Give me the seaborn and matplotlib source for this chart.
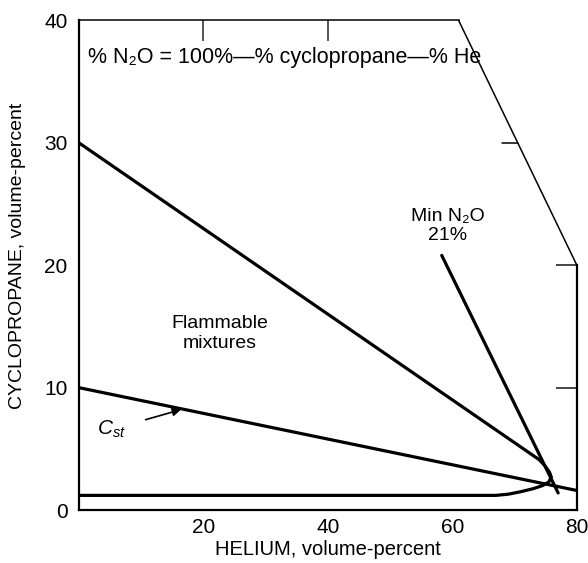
import matplotlib
matplotlib.use("Agg")
import matplotlib.pyplot as plt
import seaborn as sns
import pandas as pd

# flammable envelope: upper limit line, nose, lower limit (helium %, cyclopropane %)
envelope_he = [0, 74.0, 74.9, 75.6, 75.9, 75.5, 74.5, 73.0, 71.0, 69.0, 67.0, 0]
envelope_cp = [30, 4.1, 3.6, 3.1, 2.7, 2.3, 2.0, 1.75, 1.5, 1.3, 1.2, 1.2]

# stoichiometric line
cst_he = [0, 80]
cst_cp = [10, 1.6]

# minimum N2O (21%) line
minn2o_he = [58.3, 77.0]
minn2o_cp = [20.8, 1.4]

# N2O = 0 boundary (top right corner of the frame)
edge_he = [61, 80]
edge_cp = [40, 20]

x_ticks = [0, 20, 40, 60, 80]
x_labels = ["", "20", "40", "60", "80"]
y_ticks = [0, 10, 20, 30, 40]
y_labels = ["0", "10", "20", "30", "40"]

sns.set_style("white")
plt.rcParams["font.family"] = ["Liberation Sans", "DejaVu Sans"]
plt.rcParams["mathtext.fontset"] = "custom"
plt.rcParams["mathtext.it"] = "Liberation Sans:italic"
plt.rcParams["mathtext.rm"] = "Liberation Sans"
plt.rcParams["text.color"] = "black"
plt.rcParams["axes.labelcolor"] = "black"

fig = plt.figure(figsize=(5.88, 5.63), dpi=100)
ax = fig.add_axes([0.134, 0.094, 0.847, 0.870])

env = pd.DataFrame({"he": envelope_he, "cp": envelope_cp})
sns.lineplot(data=env, x="he", y="cp", sort=False, estimator=None, color="black", lw=2.3, ax=ax)
sns.lineplot(x=cst_he, y=cst_cp, sort=False, estimator=None, color="black", lw=2.3, ax=ax)
sns.lineplot(x=minn2o_he, y=minn2o_cp, sort=False, estimator=None, color="black", lw=2.3, ax=ax)
ax.plot(edge_he, edge_cp, color="black", lw=1.1, clip_on=False)
# tick at 30 on the slanted edge
ax.plot([68.0, 70.5], [30, 30], color="black", lw=1.1, clip_on=False)

ax.set_xlim(0, 80)
ax.set_ylim(0, 40)
ax.set_xticks(x_ticks, x_labels)
ax.set_yticks(y_ticks, y_labels)
ax.tick_params(direction="in", length=15, width=1.2, labelsize=15, colors="black", pad=6)
ax.tick_params(axis="y", pad=8)

for side in ["left", "bottom"]:
    ax.spines[side].set_linewidth(1.6)
    ax.spines[side].set_color("black")
ax.spines["top"].set_bounds(0, 61)
ax.spines["top"].set_linewidth(1.1)
ax.spines["top"].set_color("black")
ax.spines["right"].set_bounds(0, 20)
ax.spines["right"].set_linewidth(1.6)
ax.spines["right"].set_color("black")

top = ax.secondary_xaxis("top")
top.set_xticks([20, 40], ["", ""])
top.tick_params(direction="in", length=15, width=1.1)
top.spines["top"].set_visible(False)
right = ax.secondary_yaxis("right")
right.set_yticks([10, 20], ["", ""])
right.tick_params(direction="in", length=15, width=1.2)
right.spines["right"].set_visible(False)

ax.set_xlabel("HELIUM, volume-percent", fontsize=14.5, labelpad=2)
ax.set_ylabel("CYCLOPROPANE, volume-percent", fontsize=14, labelpad=6)
ax.yaxis.set_label_coords(-0.105, 0.52)

ax.text(1.5, 37.0, "% N₂O = 100%—% cyclopropane—% He", fontsize=15.5, va="center", ha="left")
ax.text(22.7, 14.4, "Flammable\nmixtures", fontsize=14, ha="center", va="center", linespacing=1.2)
ax.text(59.3, 23.2, "Min N₂O\n21%", fontsize=14, ha="center", va="center", linespacing=1.1)
ax.annotate("$C_{st}$", xy=(16.4, 8.2), xytext=(5.3, 6.6), fontsize=15, ha="center", va="center",
            arrowprops=dict(arrowstyle="-|>", color="black", lw=1.2, shrinkA=12, shrinkB=0,
                            mutation_scale=12))

fig.savefig("out.png", dpi=100)
